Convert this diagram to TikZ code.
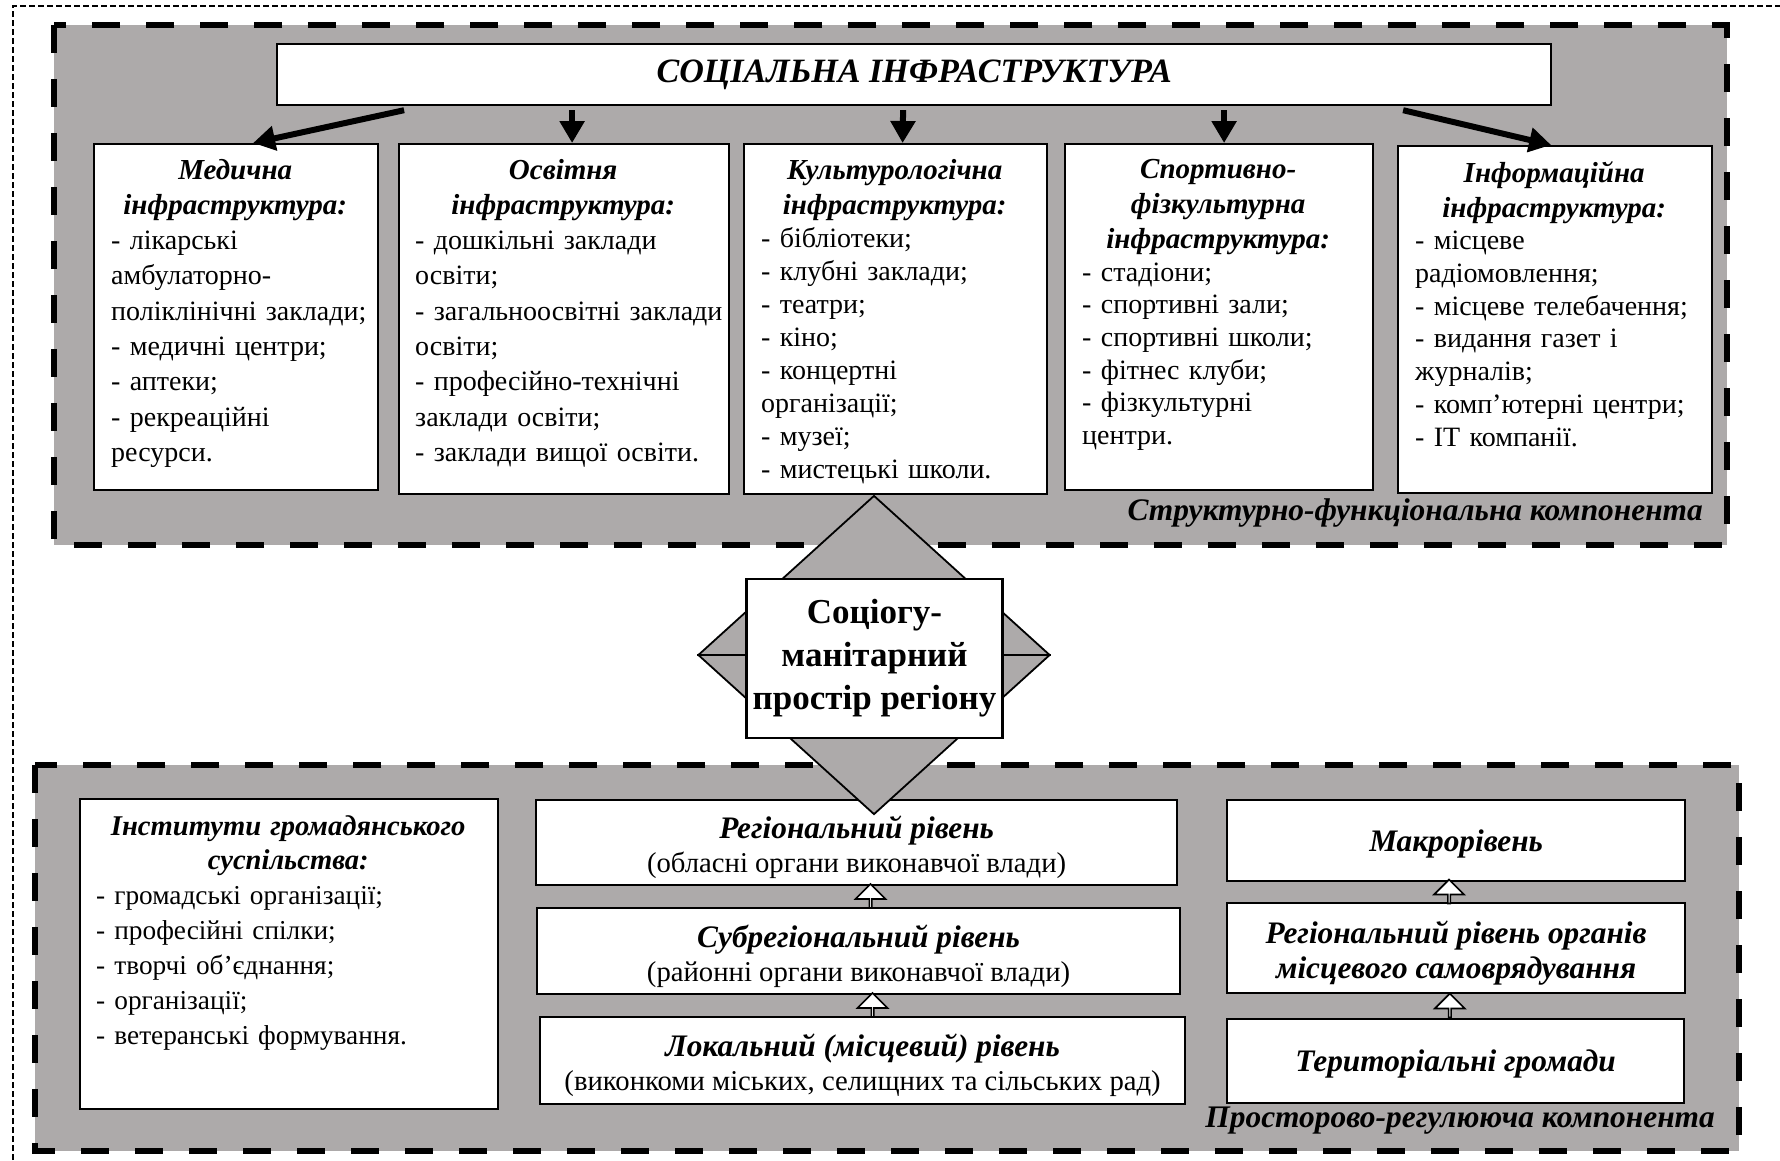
\documentclass[tikz,border=0pt]{standalone}
\usepackage{fontspec}
\setmainfont{Liberation Serif}
\usetikzlibrary{arrows.meta,shapes.geometric,shapes.arrows,calc}
\setlength{\parindent}{0pt}
\hfuzz=40pt \hbadness=10000
\definecolor{panelgray}{RGB}{173,170,170}
\newcommand{\hd}{\fontsize{29}{35}\selectfont\bfseries\itshape}
\newcommand{\lvlhd}{\fontsize{31.3}{34}\selectfont\bfseries\itshape}
\newcommand{\lift}{\rule{0pt}{26pt}}

\begin{document}
\begin{tikzpicture}[x=1pt,y=-1pt,
  panel/.style={fill=panelgray},
  paneledge/.style={line width=6.5pt, dash pattern=on 28pt off 26pt},
  box/.style={draw, fill=white, line width=2.2pt, inner sep=0pt, anchor=north west},
  boxtext/.style={anchor=north west, inner sep=0pt, text width=#1},
  bigarrow/.style={line width=6pt, -{Triangle[length=22pt,width=24pt]}},
  uparrow/.style={single arrow, draw, fill=white, line width=1.6pt, shape border rotate=90,
    single arrow head extend=9pt, single arrow tip angle=90, minimum height=24pt,
    minimum width=30pt, inner sep=0pt},
  compname/.style={anchor=base east, inner sep=0pt, font=\fontsize{31.4}{36}\selectfont\bfseries\itshape},
  lvl/.style={box, align=center, text depth=0pt, font=\fontsize{28.7}{34}\selectfont}
]
\useasboundingbox (0,0) rectangle (1780,1160);
\draw[line width=1.2pt, dash pattern=on 6pt off 3pt] (13,1160) -- (13,6) -- (1780,6);

% upper panel
\fill[panel] (54,25) rectangle (1727,545);
\draw[paneledge] (54,25) rectangle (1727,545);
\node[box, minimum width=1274pt, minimum height=61pt, font=\fontsize{34.1}{40}\selectfont\bfseries\itshape] (title) at (276,43) {СОЦІАЛЬНА ІНФРАСТРУКТУРА};

\node[box, minimum width=284pt, minimum height=346pt] (med) at (93,143) {};
\node[box, minimum width=330pt, minimum height=350pt] (osv) at (398,143) {};
\node[box, minimum width=303pt, minimum height=350pt] (kult) at (743,143) {};
\node[box, minimum width=308pt, minimum height=346pt] (sport) at (1064,143) {};
\node[box, minimum width=314pt, minimum height=347pt] (inf) at (1397,145) {};

\node[boxtext=248pt, font=\fontsize{28}{35.3}\selectfont\raggedright] (medtxt) at ([xshift=18pt,yshift=-16pt]med.north west)
  {{\centering\hd Медична\\інфраструктура:\par}
   -~лікарські\\амбулаторно-\\поліклінічні~заклади;\\-~медичні~центри;\\-~аптеки;\\-~рекреаційні\\ресурси.};
\node[boxtext=296pt, font=\fontsize{28}{35.3}\selectfont\raggedright] (osvtxt) at ([xshift=17pt,yshift=-16pt]osv.north west)
  {{\centering\hd Освітня\\інфраструктура:\par}
   -~дошкільні~заклади\\освіти;\\\mbox{-~загальноосвітні~заклади}\\освіти;\\-~професійно-технічні\\заклади~освіти;\\-~заклади~вищої~освіти.};
\node[boxtext=267pt, font=\fontsize{28}{33}\selectfont\raggedright] (kulttxt) at ([xshift=18pt,yshift=-16pt]kult.north west)
  {{\centering\hd Культурологічна\\інфраструктура:\par}
   -~бібліотеки;\\-~клубні~заклади;\\-~театри;\\-~кіно;\\-~концертні\\організації;\\-~музеї;\\-~мистецькі~школи.};
\node[boxtext=272pt, font=\fontsize{28}{32.7}\selectfont\raggedright] (sporttxt) at ([xshift=18pt,yshift=-16pt]sport.north west)
  {{\centering\hd Спортивно-\\фізкультурна\\інфраструктура:\par}
   -~стадіони;\\-~спортивні~зали;\\-~спортивні~школи;\\-~фітнес~клуби;\\-~фізкультурні\\центри.};
\node[boxtext=278pt, font=\fontsize{28}{32.7}\selectfont\raggedright] (inftxt) at ([xshift=18pt,yshift=-16pt]inf.north west)
  {{\centering\hd Інформаційна\\інфраструктура:\par}
   -~місцеве\\радіомовлення;\\-~місцеве~телебачення;\\-~видання~газет~і\\журналів;\\-~комп’ютерні~центри;\\-~ІТ~компанії.};

\draw[bigarrow] ([xshift=-510pt,yshift=-4pt]title.south) -- ([xshift=17pt]med.north);
\draw[bigarrow] ([xshift=-342pt,yshift=-4pt]title.south) -- ([xshift=8pt]osv.north);
\draw[bigarrow] ([xshift=-11pt,yshift=-4pt]title.south) -- ([xshift=7pt]kult.north);
\draw[bigarrow] ([xshift=310pt,yshift=-4pt]title.south) -- ([xshift=5pt]sport.north);
\draw[bigarrow] ([xshift=489pt,yshift=-4pt]title.south) -- ([xshift=-4pt]inf.north);
\node[compname] (sfk) at (1703,520) {Структурно-функціональна компонента};

% lower panel
\fill[panel] (35,765) rectangle (1739,1151);
\draw[paneledge] (35,765) rectangle (1739,1151);

\node[box, minimum width=418pt, minimum height=310pt] (inst) at (79,798) {};
\node[boxtext=384pt, font=\fontsize{27.3}{35}\selectfont\raggedright] (insttxt) at ([xshift=17pt,yshift=-17pt]inst.north west)
  {{\centering\fontsize{28.6}{34}\selectfont\bfseries\itshape Інститути громадянського\\суспільства:\par}
   -~громадські~організації;\\-~професійні~спілки;\\-~творчі~об’єднання;\\-~організації;\\-~ветеранські~формування.};

\node[lvl, minimum width=641pt, minimum height=85pt] (reg) at (535,799)
  {{\lvlhd\lift Регіональний рівень}\\(обласні органи виконавчої влади)};
\node[lvl, minimum width=643pt, minimum height=86pt] (sub) at (536,907)
  {{\lvlhd\lift Субрегіональний рівень}\\(районні органи виконавчої влади)};
\node[lvl, minimum width=645pt, minimum height=87pt] (loc) at (539,1016)
  {{\lvlhd\lift Локальний (місцевий) рівень}\\(виконкоми міських, селищних та сільських рад)};

\node[lvl, minimum width=458pt, minimum height=81pt, font=\lvlhd] (macro) at (1226,799) {Макрорівень};
\node[lvl, minimum width=458pt, minimum height=90pt, font=\fontsize{31.3}{35}\selectfont\bfseries\itshape] (regorg) at (1226,902)
  {\lift Регіональний рівень органів\\місцевого самоврядування};
\node[lvl, minimum width=457pt, minimum height=84pt, font=\lvlhd] (ter) at (1226,1018) {Територіальні громади};

\node[uparrow] (up1) at ($(reg.south)!.5!(sub.north)+(13,0)$) {};
\node[uparrow] (up2) at ($(sub.south)!.5!(loc.north)+(12,0)$) {};
\node[uparrow] (up3) at ($(macro.south)!.5!(regorg.north)+(-7,0)$) {};
\node[uparrow] (up4) at ($(regorg.south)!.5!(ter.north)+(-6,0)$) {};
\node[compname] (prk) at (1715,1127) {Просторово-регулююча компонента};

% centre
\node[diamond, draw, fill=panelgray, line width=1.8pt, minimum width=352pt, minimum height=319pt, inner sep=0pt] (dia) at (874,655) {};
\draw[line width=1.8pt] (dia.west) -- (dia.east);
\node[draw, fill=white, line width=2.2pt, minimum width=256pt, minimum height=159pt, align=center,
  font=\fontsize{35}{43}\selectfont\bfseries] (core) at (874.5,658.5) {Соціогу-\\манітарний\\простір регіону};
\end{tikzpicture}
\end{document}
